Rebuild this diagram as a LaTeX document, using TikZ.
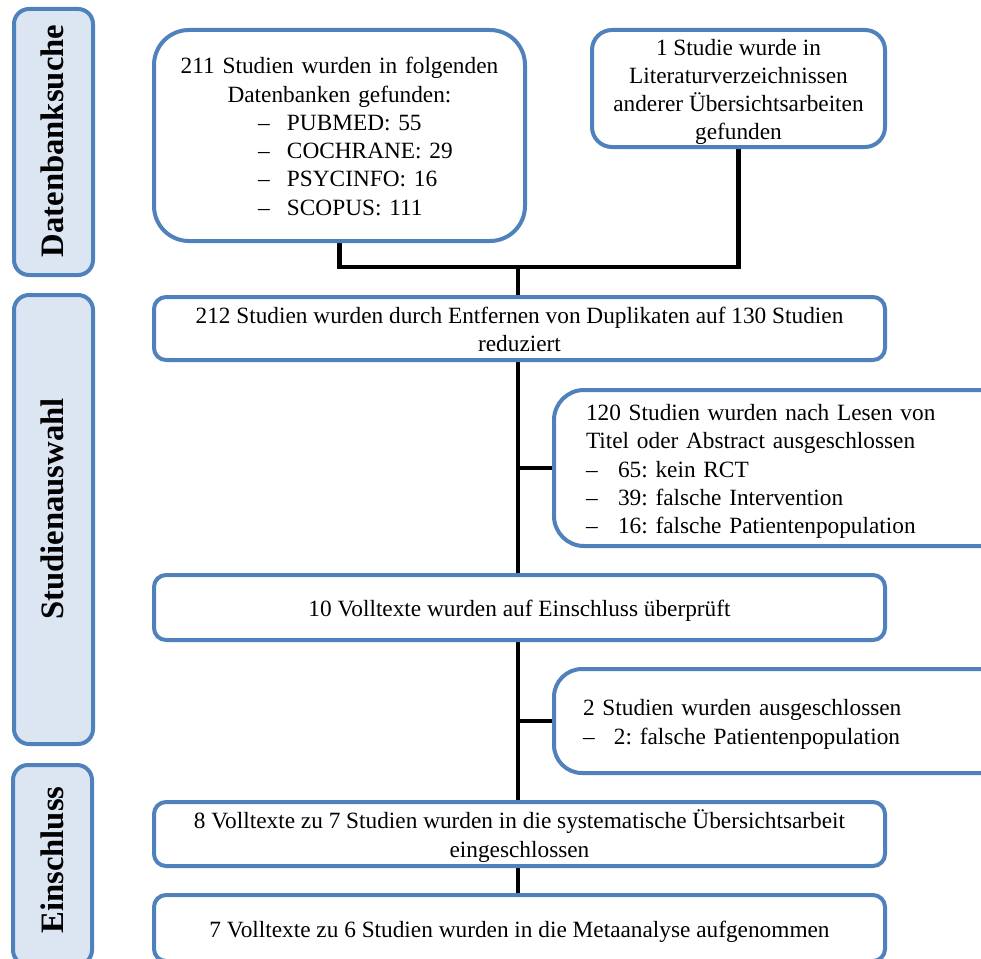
\documentclass[tikz,border=0pt]{standalone}
\usepackage{fontspec}
\setmainfont{Liberation Serif}
\usetikzlibrary{backgrounds}
\definecolor{bord}{HTML}{4F81BD}
\definecolor{barfill}{HTML}{DCE6F2}
\newcommand{\tstr}{\rule{0pt}{24pt}}
\newcommand{\bstr}{\rule[-6pt]{0pt}{6pt}}
\begin{document}
\begin{tikzpicture}[x=1pt,y=-1pt,
  box/.style={draw=bord, line width=4pt, fill=white, inner sep=0pt,
    font=\fontsize{23.3pt}{28.3pt}\selectfont\frenchspacing},
  bar/.style={draw=bord, line width=4pt, fill=barfill, rounded corners=15pt, inner sep=0pt},
  lbl/.style={rotate=90, font=\fontsize{32.7pt}{36pt}\selectfont\bfseries, inner sep=0pt},
  conn/.style={draw=black, line width=4.5pt, line join=miter}]
\useasboundingbox (0,0) rectangle (981,958);
\clip (0,0) rectangle (981,958);

% phase bars
\node[bar, minimum width=79pt, minimum height=266pt] (bar1) at (53.5,142) {};
\node[lbl] (lab1) at (52,141) {Datenbanksuche};
\node[bar, minimum width=79pt, minimum height=449pt] (bar2) at (53.5,519.5) {};
\node[lbl] (lab2) at (52,509) {Studienauswahl};
\node[bar, minimum width=79pt, minimum height=200pt] (bar3) at (52.5,865) {};
\node[lbl] (lab3) at (52,860) {Einschluss};

% boxes
\node[box, rounded corners=35pt, minimum width=371pt, minimum height=211pt, text width=371pt]
  (b1) at (339.5,135.5)
  {\parindent=0pt{\centering\tstr 211 Studien wurden in folgenden\\Datenbanken gefunden:\par}%
   {\raggedright\leftskip=104pt
    \makebox[29pt][l]{–}PUBMED: 55\\
    \makebox[29pt][l]{–}COCHRANE: 29\\
    \makebox[29pt][l]{–}PSYCINFO: 16\\
    \makebox[29pt][l]{–}SCOPUS: 111\bstr\par}};
\node[box, align=center, rounded corners=20pt, minimum width=293pt, minimum height=117pt]
  (b2) at (738.5,88.5)
  {\tstr 1 Studie wurde in\\Literaturverzeichnissen\\anderer Übersichtsarbeiten\\gefunden\bstr};
\node[box, align=center, rounded corners=12pt, minimum width=731pt, minimum height=63pt]
  (b3) at (519.5,328.5)
  {\tstr 212 Studien wurden durch Entfernen von Duplikaten auf 130 Studien\\reduziert\bstr};
\node[box, anchor=west, rounded corners=30pt, text width=460pt, minimum height=156pt]
  (b4) at (552,468)
  {\parindent=0pt\raggedright\leftskip=32pt
   \tstr 120 Studien wurden nach Lesen von\\
   Titel oder Abstract ausgeschlossen\\
   \makebox[32pt][l]{–}65: kein RCT\\
   \makebox[32pt][l]{–}39: falsche Intervention\\
   \makebox[32pt][l]{–}16: falsche Patientenpopulation\bstr\par};
\node[box, align=center, rounded corners=12pt, minimum width=731pt, minimum height=65pt]
  (b5) at (519.5,607.5)
  {\tstr 10 Volltexte wurden auf Einschluss überprüft\bstr};
\node[box, anchor=west, rounded corners=28pt, text width=460pt, minimum height=104pt]
  (b6) at (552,721)
  {\parindent=0pt\raggedright\leftskip=29pt
   \tstr 2 Studien wurden ausgeschlossen\\
   \makebox[31pt][l]{–}2: falsche Patientenpopulation\bstr\par};
\node[box, align=center, rounded corners=12pt, minimum width=731pt, minimum height=64pt]
  (b7) at (519.5,834)
  {\tstr 8 Volltexte zu 7 Studien wurden in die systematische Übersichtsarbeit\\eingeschlossen\bstr};
\node[box, align=center, rounded corners=12pt, minimum width=731pt, minimum height=66pt]
  (b8) at (519.5,928)
  {\tstr 7 Volltexte zu 6 Studien wurden in die Metaanalyse aufgenommen\bstr};

\coordinate (j) at (518,267);

\begin{scope}[on background layer]
\draw[conn] (b1.south) |- (b2.south |- j) -- (b2.south);
\draw[conn] (j) -- (j |- b3.north);
\draw[conn] (j |- b3.south) -- (j |- b5.north);
\draw[conn] (j |- b5.south) -- (j |- b7.north);
\draw[conn] (j |- b7.south) -- (j |- b8.north);
\draw[conn] (j |- b4.west) -- (b4.west);
\draw[conn] (j |- b6.west) -- (b6.west);
\end{scope}
\end{tikzpicture}
\end{document}
